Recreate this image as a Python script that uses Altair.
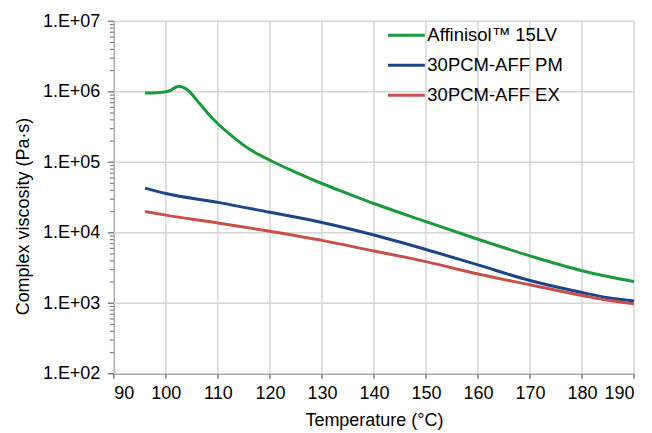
import altair as alt
import pandas as pd

# ---- data ----
series_names = ["Affinisol™  15LV", "30PCM-AFF PM", "30PCM-AFF EX"]
series_colors = ["#1a9a3c", "#1c4587", "#c8504b"]

green_T = [96, 98, 100, 101, 102, 102.5, 103.9, 106.5, 108.4, 110.3, 112.9, 116.1,
           120, 125, 130, 135, 140, 150, 160, 170, 180, 185, 190]
green_v = [9.6e5, 9.7e5, 1.0e6, 1.06e6, 1.17e6, 1.2e6, 1.1e6, 6.8e5, 4.65e5, 3.35e5, 2.3e5, 1.53e5,
           1.07e5, 7.2e4, 5.0e4, 3.6e4, 2.6e4, 1.44e4, 8.1e3, 4.7e3, 2.9e3, 2.4e3, 2.03e3]

pm_T = [96, 100, 110, 120, 130, 140, 150, 160, 170, 180, 185, 190]
pm_v = [4.3e4, 3.6e4, 2.7e4, 1.95e4, 1.4e4, 9.3e3, 5.8e3, 3.5e3, 2.1e3, 1.42e3, 1.2e3, 1.08e3]

ex_T = [96, 100, 110, 120, 130, 140, 150, 160, 170, 180, 185, 190]
ex_v = [2.0e4, 1.78e4, 1.38e4, 1.05e4, 7.8e3, 5.5e3, 3.9e3, 2.6e3, 1.83e3, 1.29e3, 1.1e3, 0.98e3]

x_ticks = [90, 100, 110, 120, 130, 140, 150, 160, 170, 180, 190]
y_ticks = [1e2, 1e3, 1e4, 1e5, 1e6, 1e7]
minor_ticks = [m * 10 ** e for e in range(2, 7) for m in range(2, 10)]

rows = []
for name, Ts, vs in zip(series_names, [green_T, pm_T, ex_T], [green_v, pm_v, ex_v]):
    for i, (t, v) in enumerate(zip(Ts, vs)):
        rows.append({"series": name, "T": t, "v": v, "i": i})
df = pd.DataFrame(rows)
minor_df = pd.DataFrame({"v": minor_ticks})
xt_df = pd.DataFrame({"T": x_ticks})
yt_df = pd.DataFrame({"v": y_ticks})

FONT = "Liberation Sans"
AX = "#808080"
GRID = "#d6d6d6"
W, H = 521, 353

x_scale = alt.Scale(domain=[90, 190], nice=False, zero=False)
x_axis = alt.Axis(values=x_ticks, format="d", grid=False, ticks=False)
X_TITLE = "Temperature (°C)"
y_scale = alt.Scale(type="log", domain=[1e2, 1e7], nice=False)
y_axis = alt.Axis(values=y_ticks, grid=False, ticks=False, titleY=195,
                  labelExpr="'1.E+0' + round(log(datum.value) / LN10)")
Y_TITLE = "Complex viscosity (Pa·s)"

X = lambda f: alt.X(f, title=X_TITLE, scale=x_scale, axis=x_axis)
Y = lambda f: alt.Y(f, title=Y_TITLE, scale=y_scale, axis=y_axis)

xgrid = alt.Chart(xt_df).mark_rule(color=GRID, strokeWidth=1.5).encode(
    x=X("T:Q"), y=alt.value(0), y2=alt.value(H))
ygrid = alt.Chart(yt_df).mark_rule(color=GRID, strokeWidth=1.5).encode(
    y=Y("v:Q"), x=alt.value(0), x2=alt.value(W))
xtick = alt.Chart(xt_df).mark_rule(color=AX, strokeWidth=1.5).encode(
    x=X("T:Q"), y=alt.value(H), y2=alt.value(H + 5))
ytick = alt.Chart(yt_df).mark_rule(color=AX, strokeWidth=1.5).encode(
    y=Y("v:Q"), x=alt.value(-6), x2=alt.value(0))
minor = alt.Chart(minor_df).mark_rule(color=AX, strokeWidth=1.2).encode(
    y=Y("v:Q"), x=alt.value(-4), x2=alt.value(0))

lines = alt.Chart(df).mark_line(strokeWidth=3, interpolate="monotone").encode(
    x=X("T:Q"),
    y=Y("v:Q"),
    color=alt.Color("series:N", sort=series_names,
                    scale=alt.Scale(domain=series_names, range=series_colors),
                    legend=alt.Legend(title=None, orient="none", legendX=273, legendY=-6,
                                      symbolType="stroke", symbolSize=1369,
                                      symbolStrokeWidth=3, labelFontSize=18.5,
                                      labelFont=FONT, labelColor="#000000",
                                      labelOffset=1, rowPadding=-4, padding=0)),
    order="i:Q",
)

chart = alt.layer(xgrid, ygrid, lines, xtick, ytick, minor).properties(
    width=W, height=H,
    autosize=alt.AutoSizeParams(type="none"),
    padding={"left": 106, "top": 13, "right": 10, "bottom": 58},
).configure_axis(
    labelFont=FONT, titleFont=FONT, labelFontSize=18, titleFontSize=18,
    labelColor="#000000", titleColor="#000000", titleFontWeight="normal",
    domainColor=AX, domainWidth=1.5,
).configure_axisX(titlePadding=9, labelPadding=11).configure_axisY(titlePadding=10, labelPadding=14).configure_view(stroke=None)

chart.save("out.html", embed_options={"renderer": "svg", "actions": False})
